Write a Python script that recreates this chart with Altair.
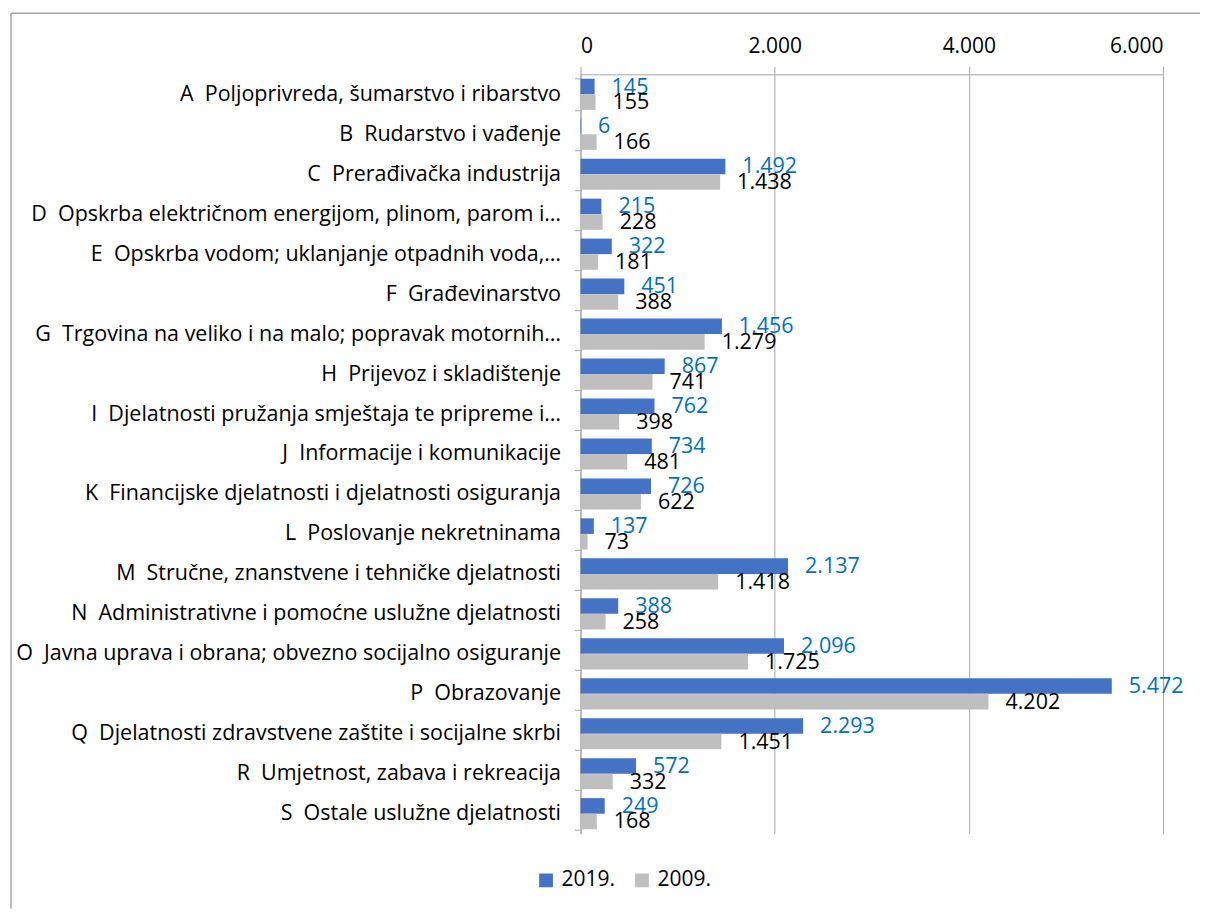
import altair as alt
import pandas as pd

categories = [
    "A\u00a0 Poljoprivreda, šumarstvo i ribarstvo",
    "B\u00a0 Rudarstvo i vađenje",
    "C\u00a0 Prerađivačka industrija",
    "D\u00a0 Opskrba električnom energijom, plinom, parom i…",
    "E\u00a0 Opskrba vodom; uklanjanje otpadnih voda,…",
    "F\u00a0 Građevinarstvo",
    "G\u00a0 Trgovina na veliko i na malo; popravak motornih…",
    "H\u00a0 Prijevoz i skladištenje",
    "I\u00a0 Djelatnosti pružanja smještaja te pripreme i…",
    "J\u00a0 Informacije i komunikacije",
    "K\u00a0 Financijske djelatnosti i djelatnosti osiguranja",
    "L\u00a0 Poslovanje nekretninama",
    "M\u00a0 Stručne, znanstvene i tehničke djelatnosti",
    "N\u00a0 Administrativne i pomoćne uslužne djelatnosti",
    "O\u00a0 Javna uprava i obrana; obvezno socijalno osiguranje",
    "P\u00a0 Obrazovanje",
    "Q\u00a0 Djelatnosti zdravstvene zaštite i socijalne skrbi",
    "R\u00a0 Umjetnost, zabava i rekreacija",
    "S\u00a0 Ostale uslužne djelatnosti",
]
values_2019 = [145, 6, 1492, 215, 322, 451, 1456, 867, 762, 734, 726, 137, 2137, 388, 2096, 5472, 2293, 572, 249]
values_2009 = [155, 166, 1438, 228, 181, 388, 1279, 741, 398, 481, 622, 73, 1418, 258, 1725, 4202, 1451, 332, 168]
series_names = ["2019.", "2009."]
x_ticks = [0, 2000, 4000, 6000]

rows = []
for c, a, b in zip(categories, values_2019, values_2009):
    for s, v in zip(series_names, (a, b)):
        rows.append({"cat": c, "series": s, "value": v,
                     "lbl": f"{v:,}".replace(",", ".")})
df = pd.DataFrame(rows)

FONT = "Open Sans"
GRID = "#A6A6A6"

y_enc = alt.Y("cat:N", sort=categories, title=None,
              scale=alt.Scale(paddingInner=0.22, paddingOuter=0.11),
              axis=alt.Axis(tickBand="extent", labelLimit=0, labelFontSize=21.5,
                            labelFont=FONT, labelColor="#000000", labelPadding=14,
                            tickSize=6, tickColor=GRID, domainColor=GRID, grid=False))
yoff = alt.YOffset("series:N", sort=series_names,
                   scale=alt.Scale(paddingInner=0, paddingOuter=0))
x_enc = alt.X("value:Q", title=None,
              scale=alt.Scale(domain=[0, 6000], nice=False),
              axis=alt.Axis(orient="top", values=x_ticks, grid=True, gridColor=GRID,
                            tickColor=GRID, domainColor=GRID, tickSize=8,
                            labelPadding=10, labelFontSize=21, labelFont=FONT,
                            labelColor="#000000",
                            labelExpr="replace(format(datum.value, ','), ',', '.')"))

base = alt.Chart(df)

bars = base.mark_bar().encode(
    x=x_enc, y=y_enc, yOffset=yoff,
    color=alt.Color("series:N", sort=series_names, title=None,
                    scale=alt.Scale(domain=series_names, range=["#4472C4", "#BFBFBF"]),
                    legend=alt.Legend(orient="none", legendX=-45, legendY=796,
                                      direction="horizontal", symbolType="square",
                                      symbolSize=190, symbolStrokeWidth=0,
                                      labelFontSize=21, labelFont=FONT,
                                      labelColor="#000000", columnPadding=16,
                                      labelOffset=5)),
)

labels = base.mark_text(align="left", baseline="middle", dx=17, dy=1,
                        fontSize=21.5, font=FONT).encode(
    x="value:Q", y=alt.Y("cat:N", sort=categories), yOffset=yoff,
    text="lbl:N",
    color=alt.condition(alt.datum.series == "2019.", alt.value("#0070C0"), alt.value("#000000")),
)

frame_data = alt.Data(values=[{"k": 1}])
frame_top = alt.Chart(frame_data).mark_rule(color="#A6A6A6", strokeWidth=1.5).encode(
    x=alt.value(-570), x2=alt.value(620), y=alt.value(-61))
frame_left = alt.Chart(frame_data).mark_rule(color="#A6A6A6", strokeWidth=1.5).encode(
    x=alt.value(-570), y=alt.value(-61), y2=alt.value(835))

chart = alt.layer(bars, labels, frame_top, frame_left).properties(
    width=583, height=760,
    padding={"left": 2, "top": 4, "right": 0, "bottom": 0},
).configure_view(stroke=None).configure_axis(labelFont=FONT)

chart.save("out.html", embed_options={"renderer": "svg", "actions": False})
